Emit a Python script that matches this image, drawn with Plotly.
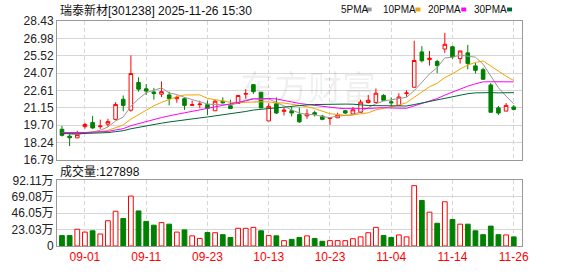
import plotly.graph_objects as go

# ---------------- data ----------------
dates = ["08-27", "08-28", "08-29",
         "09-01", "09-02", "09-03", "09-04", "09-05", "09-08", "09-09", "09-10", "09-11",
         "09-12", "09-15", "09-16", "09-17", "09-18", "09-19", "09-22", "09-23",
         "09-24", "09-25", "09-26", "09-29", "09-30", "10-09", "10-10", "10-13",
         "10-14", "10-15", "10-16", "10-17", "10-20", "10-21", "10-22", "10-23",
         "10-24", "10-27", "10-28", "10-29", "10-30", "10-31", "11-03", "11-04",
         "11-05", "11-06", "11-07", "11-10", "11-11", "11-12", "11-13", "11-14",
         "11-17", "11-18", "11-19", "11-20", "11-21", "11-24", "11-25", "11-26"]

opens = [19.36, 18.78, 18.64, 19.58, 19.92, 19.58, 19.79, 20.19, 21.87, 20.96,
         23.28, 22.75, 22.48, 22.30, 22.24, 21.92, 21.92, 21.36, 21.42, 21.42,
         20.91, 21.71, 21.34, 21.52, 22.30, 23.10, 22.46, 20.06, 21.50, 20.86,
         20.91, 20.59, 20.48, 20.75, 20.46, 20.27, 20.32, 20.91, 20.64, 20.78,
         21.60, 21.60, 22.19, 21.66, 21.36, 22.35, 22.88, 25.84, 25.20, 25.04,
         26.08, 26.27, 25.28, 25.76, 24.67, 24.35, 23.07, 21.15, 20.88, 21.23]
highs = [19.64, 19.00, 19.23, 19.90, 20.48, 20.16, 20.24, 21.63, 22.19, 25.55,
         23.71, 23.15, 22.83, 23.36, 22.51, 22.19, 22.03, 21.76, 21.76, 21.76,
         21.84, 22.03, 21.84, 22.24, 22.72, 23.10, 22.46, 21.55, 22.03, 21.18,
         21.23, 21.18, 21.04, 20.91, 20.56, 20.32, 20.75, 20.99, 21.23, 21.84,
         22.24, 22.78, 22.30, 22.03, 22.38, 22.62, 26.78, 26.32, 25.92, 25.18,
         27.44, 26.35, 25.92, 26.43, 24.91, 24.51, 23.23, 21.31, 21.55, 21.39]
lows = [18.75, 17.95, 18.64, 19.42, 19.39, 19.39, 19.58, 20.11, 20.86, 20.83,
        22.51, 22.24, 21.84, 22.06, 21.36, 21.58, 20.99, 21.36, 21.12, 20.56,
        20.91, 21.50, 21.10, 21.52, 21.92, 22.32, 21.15, 20.06, 20.64, 20.51,
        20.43, 19.90, 20.24, 20.43, 20.11, 19.71, 20.32, 20.64, 20.64, 20.78,
        21.52, 21.60, 21.79, 21.18, 21.36, 22.08, 22.88, 24.96, 24.70, 24.06,
        25.76, 25.26, 24.86, 24.38, 24.03, 23.50, 20.78, 20.56, 20.88, 20.94]
closes = [18.85, 18.65, 18.91, 19.76, 19.47, 19.63, 20.00, 21.44, 21.36, 24.03,
          22.72, 22.56, 22.35, 22.51, 21.92, 22.03, 21.36, 21.42, 21.47, 21.12,
          21.71, 21.58, 21.10, 22.19, 22.35, 22.51, 21.15, 21.28, 20.72, 20.96,
          20.72, 19.98, 20.64, 20.59, 20.19, 20.32, 20.56, 20.72, 20.99, 21.63,
          21.79, 22.38, 21.79, 21.58, 22.06, 22.40, 25.12, 25.10, 25.31, 24.70,
          26.48, 25.42, 25.92, 24.86, 24.30, 23.55, 20.78, 20.72, 21.36, 21.02]

ma5 = [19.05, 18.96, 18.92, 19.05, 19.13, 19.28, 19.55, 20.06, 20.38, 21.29,
       21.91, 22.42, 22.60, 22.83, 22.41, 22.27, 22.03, 21.85, 21.64, 21.48,
       21.42, 21.46, 21.40, 21.54, 21.79, 21.95, 21.86, 21.90, 21.60, 21.32,
       20.97, 20.73, 20.60, 20.58, 20.42, 20.34, 20.46, 20.48, 20.56, 20.84,
       21.14, 21.50, 21.72, 21.83, 21.92, 22.04, 22.59, 23.25, 24.00, 24.53,
       25.34, 25.40, 25.57, 25.48, 25.40, 24.81, 23.88, 22.84, 22.14, 21.49]
ma10 = [19.08, 19.03, 19.01, 19.08, 19.11, 19.17, 19.26, 19.49, 19.72, 20.21,
        20.60, 20.99, 21.33, 21.61, 21.85, 22.09, 22.23, 22.23, 22.24, 21.95,
        21.85, 21.75, 21.62, 21.59, 21.63, 21.68, 21.66, 21.65, 21.57, 21.56,
        21.46, 21.30, 21.25, 21.09, 20.87, 20.66, 20.60, 20.54, 20.57, 20.63,
        20.74, 20.98, 21.10, 21.20, 21.38, 21.59, 22.05, 22.48, 22.92, 23.22,
        23.69, 24.00, 24.41, 24.74, 24.96, 25.08, 24.64, 24.20, 23.81, 23.44]
ma20 = [19.09, 19.07, 19.06, 19.09, 19.11, 19.13, 19.18, 19.30, 19.41, 19.66,
        19.84, 20.01, 20.17, 20.34, 20.48, 20.63, 20.74, 20.86, 20.98, 21.08,
        21.22, 21.37, 21.48, 21.60, 21.74, 21.89, 21.94, 21.94, 21.90, 21.75,
        21.65, 21.52, 21.44, 21.34, 21.25, 21.17, 21.13, 21.09, 21.07, 21.09,
        21.10, 21.14, 21.17, 21.14, 21.13, 21.12, 21.32, 21.51, 21.74, 21.93,
        22.22, 22.49, 22.75, 22.97, 23.17, 23.33, 23.34, 23.34, 23.36, 23.33]
ma30 = [19.00, 18.98, 18.98, 19.01, 19.02, 19.04, 19.08, 19.16, 19.24, 19.40,
        19.53, 19.65, 19.76, 19.87, 19.97, 20.07, 20.15, 20.23, 20.31, 20.39,
        20.48, 20.56, 20.63, 20.74, 20.85, 20.97, 21.04, 21.11, 21.17, 21.24,
        21.30, 21.34, 21.40, 21.43, 21.45, 21.48, 21.49, 21.47, 21.46, 21.38,
        21.35, 21.34, 21.32, 21.29, 21.30, 21.31, 21.43, 21.56, 21.68, 21.80,
        21.96, 22.09, 22.25, 22.34, 22.41, 22.44, 22.43, 22.41, 22.43, 22.43]

# volume in 万 (10k shares)
volumes = [14.6, 14.6, 23.5, 19.5, 21.3, 16.8, 35.4, 48.7, 38.5, 70.0,
           49.2, 34.5, 29.2, 32.8, 30.6, 19.5, 22.6, 14.2, 10.6, 19.0,
           18.6, 15.9, 12.0, 24.8, 24.8, 26.1, 21.3, 14.6, 14.2, 7.5,
           9.3, 12.0, 14.2, 10.6, 6.6, 7.5, 7.5, 7.5, 10.2, 12.8,
           18.6, 26.1, 14.6, 12.0, 15.5, 12.8, 84.6, 63.8, 47.4, 31.9,
           62.0, 37.2, 30.6, 30.6, 21.3, 15.9, 27.9, 15.9, 15.5, 12.79]
# 1 = up (red hollow), 0 = down (green solid), vs previous close
vol_up = [0, 0, 1, 1, 0, 1, 1, 1, 0, 1,
          0, 0, 0, 1, 0, 1, 0, 1, 1, 0,
          1, 0, 0, 1, 1, 1, 0, 1, 0, 1,
          0, 0, 1, 0, 0, 1, 1, 1, 1, 1,
          1, 1, 0, 0, 1, 1, 1, 0, 1, 0,
          1, 0, 1, 0, 0, 0, 0, 0, 1, 0]

price_ticks = [16.79, 18.24, 19.70, 21.15, 22.61, 24.07, 25.52, 26.98, 28.43]
price_labels = ["16.79", "18.24", "19.70", "21.15", "22.61", "24.07", "25.52", "26.98", "28.43"]
vol_ticks = [0, 23.03, 46.05, 69.08, 92.11]
vol_labels = ["0", "23.03万", "46.05万", "69.08万", "92.11万"]
date_ticks = ["09-01", "09-11", "09-23", "10-13", "10-23", "11-04", "11-14", "11-26"]

title_text = "瑞泰新材[301238] 2025-11-26 15:30"
vol_title = "成交量:127898"

# ---------------- styles ----------------
RED = "#ff0000"
GREEN = "#008000"
MA_COLORS = ["#999999", "#f5a300", "#ff00ff", "#006633"]
MA_NAMES = ["5PMA", "10PMA", "20PMA", "30PMA"]
FONT = "Liberation Sans, Arial, Noto Sans CJK SC, sans-serif"
GRID = "#d6d6d6"
AXLINE = "#999999"

fig = go.Figure()

fig.add_trace(go.Candlestick(
    x=dates, open=opens, high=highs, low=lows, close=closes,
    increasing=dict(line=dict(color=RED, width=1), fillcolor="#ffffff"),
    decreasing=dict(line=dict(color=GREEN, width=1), fillcolor=GREEN),
    whiskerwidth=0, xaxis="x", yaxis="y", showlegend=False, hoverinfo="skip"))

for vals, col, nm in zip([ma5, ma10, ma20, ma30], MA_COLORS, MA_NAMES):
    fig.add_trace(go.Scatter(x=dates, y=vals, mode="lines", name=nm,
                             line=dict(color=col, width=1),
                             xaxis="x", yaxis="y", showlegend=False, hoverinfo="skip"))

fig.add_trace(go.Bar(
    x=dates, y=volumes, width=0.62,
    marker=dict(color=["#ffffff" if u else GREEN for u in vol_up],
                line=dict(color=[RED if u else GREEN for u in vol_up], width=1)),
    xaxis="x2", yaxis="y2", showlegend=False, hoverinfo="skip"))

xcommon = dict(type="category", categoryorder="array", categoryarray=dates,
               range=[-0.65, 60.08], tickmode="array", tickvals=date_ticks,
               showgrid=True, gridcolor=GRID, griddash="4px,3px", gridwidth=1,
               showline=True, mirror=True, linecolor=AXLINE, linewidth=1,
               ticks="", zeroline=False, fixedrange=True)

fig.update_layout(
    width=578, height=276,
    margin=dict(l=55, r=56, t=21, b=21),
    paper_bgcolor="#ffffff", plot_bgcolor="#ffffff",
    font=dict(family=FONT, size=12, color="#222222"),
    boxgap=0.33,
    xaxis=dict(**xcommon, anchor="y", domain=[0, 1], showticklabels=False,
               rangeslider=dict(visible=False)),
    xaxis2=dict(**xcommon, anchor="y2", domain=[0, 1], matches="x",
                showticklabels=True, ticktext=date_ticks,
                tickfont=dict(color=RED, size=12, family=FONT)),
    yaxis=dict(domain=[0.3825, 1], range=[16.79, 28.43], tickmode="array",
               tickvals=price_ticks, ticktext=price_labels,
               showgrid=True, gridcolor=GRID, gridwidth=1,
               showline=True, mirror=True, linecolor=AXLINE, linewidth=1,
               ticks="", zeroline=False, tickfont=dict(size=12, color="#222222")),
    yaxis2=dict(domain=[0, 0.292], range=[0, 92.11], tickmode="array",
                tickvals=vol_ticks, ticktext=vol_labels,
                showgrid=True, gridcolor=GRID, gridwidth=1,
                showline=True, mirror=True, linecolor=AXLINE, linewidth=1,
                ticks="", zeroline=False, tickfont=dict(size=12, color="#222222")),
)

PW = 467.0
PH = 234.0

def px_x(p):
    return (p - 55) / PW

def px_y(p):
    return (255 - p) / PH

annotations = [
    dict(text=title_text, x=px_x(56), y=px_y(10), xref="paper", yref="paper",
         xanchor="left", yanchor="middle", showarrow=False,
         font=dict(size=12, color="#111111", family=FONT)),
    dict(text=vol_title, x=px_x(56), y=px_y(177), xref="paper", yref="paper",
         xanchor="left", yanchor="middle", showarrow=False,
         font=dict(size=12, color="#111111", family=FONT)),
    dict(text="东方财富", x=px_x(307), y=px_y(88), xref="paper", yref="paper",
         xanchor="center", yanchor="middle", showarrow=False,
         font=dict(size=34, color="rgba(0,0,0,0.07)", family="Noto Sans CJK SC")),
]
leg_text_x = [338, 380, 426, 472]
leg_sw_x = [366, 415, 461, 507]
shapes = []
for nm, col, tx, sx in zip(MA_NAMES, MA_COLORS, leg_text_x, leg_sw_x):
    annotations.append(dict(text=nm, x=px_x(tx), y=px_y(9), xref="paper", yref="paper",
                            xanchor="left", yanchor="middle", showarrow=False,
                            font=dict(size=10, color="#111111", family=FONT)))
    shapes.append(dict(type="rect", xref="paper", yref="paper",
                       x0=px_x(sx), x1=px_x(sx + 5), y0=px_y(11), y1=px_y(7),
                       fillcolor=col, line=dict(width=0)))

fig.update_layout(annotations=annotations, shapes=shapes)

fig.write_html("out.html")
